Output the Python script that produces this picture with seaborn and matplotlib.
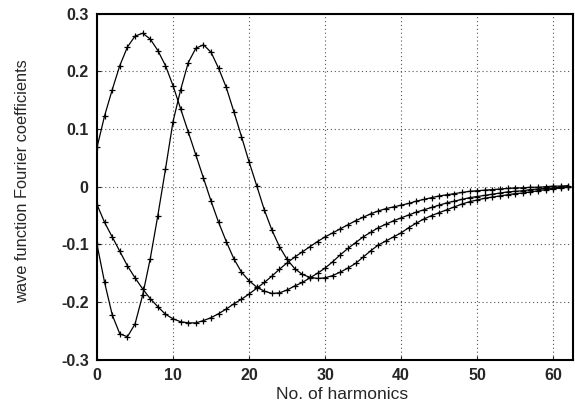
import numpy as np
import pandas as pd
import matplotlib
matplotlib.use('Agg')
import matplotlib.pyplot as plt
import seaborn as sns

# 谐波序号
harmonics = list(range(63))

# 三条波函数的傅里叶系数
coef_a = [0.068, 0.123, 0.168, 0.210, 0.242, 0.261, 0.266, 0.256, 0.236, 0.210,
          0.175, 0.135, 0.095, 0.055, 0.015, -0.025, -0.062, -0.095, -0.125, -0.148,
          -0.163, -0.174, -0.181, -0.185, -0.184, -0.179, -0.172, -0.166, -0.158, -0.150,
          -0.141, -0.130, -0.118, -0.107, -0.097, -0.087, -0.079, -0.071, -0.065, -0.059,
          -0.054, -0.049, -0.044, -0.040, -0.036, -0.032, -0.028, -0.025, -0.022, -0.019,
          -0.017, -0.015, -0.013, -0.011, -0.009, -0.008, -0.007, -0.005, -0.004, -0.003,
          -0.002, -0.001, 0.000]

coef_b = [-0.031, -0.062, -0.087, -0.112, -0.137, -0.158, -0.177, -0.194, -0.208, -0.221,
          -0.229, -0.234, -0.236, -0.236, -0.232, -0.227, -0.220, -0.212, -0.203, -0.195,
          -0.186, -0.176, -0.166, -0.155, -0.143, -0.132, -0.122, -0.113, -0.104, -0.095,
          -0.087, -0.080, -0.073, -0.066, -0.059, -0.053, -0.047, -0.042, -0.038, -0.035,
          -0.032, -0.029, -0.025, -0.022, -0.019, -0.016, -0.014, -0.012, -0.010, -0.008,
          -0.007, -0.006, -0.005, -0.004, -0.003, -0.002, -0.002, -0.001, -0.001, 0.000,
          0.001, 0.001, 0.002]

coef_c = [-0.100, -0.166, -0.222, -0.255, -0.260, -0.238, -0.188, -0.125, -0.050, 0.030,
          0.113, 0.168, 0.215, 0.240, 0.246, 0.233, 0.205, 0.172, 0.130, 0.087,
          0.043, 0.002, -0.040, -0.075, -0.104, -0.126, -0.142, -0.152, -0.157, -0.159,
          -0.158, -0.154, -0.148, -0.141, -0.133, -0.122, -0.111, -0.101, -0.094, -0.087,
          -0.080, -0.071, -0.063, -0.056, -0.050, -0.045, -0.040, -0.035, -0.030, -0.026,
          -0.023, -0.020, -0.018, -0.016, -0.014, -0.012, -0.011, -0.009, -0.007, -0.005,
          -0.004, -0.002, -0.001]

x_ticks = [0, 10, 20, 30, 40, 50, 60]
y_ticks = [-0.3, -0.2, -0.1, 0, 0.1, 0.2, 0.3]
y_tick_labels = ['-0.3', '-0.2', '-0.1', '0', '0.1', '0.2', '0.3']

sns.set_style('ticks')
plt.rcParams['font.family'] = ['Liberation Sans', 'DejaVu Sans']

fig = plt.figure(figsize=(5.75, 4.05), dpi=100)
ax = fig.add_axes([0.1687, 0.1116, 0.8278, 0.8548])

for vals in (coef_a, coef_b, coef_c):
    sns.lineplot(x=harmonics, y=vals, ax=ax, color='black', linewidth=0.9,
                 marker='+', markersize=5, markeredgewidth=0.9,
                 markeredgecolor='black', clip_on=True)

ax.set_xlim(0, 62.6)
ax.set_ylim(-0.3, 0.3)
ax.set_xticks(x_ticks)
ax.set_yticks(y_ticks)
ax.set_yticklabels(y_tick_labels)
ax.tick_params(direction='in', length=3, width=0.8, labelsize=11.5, pad=6)
for lab in ax.get_xticklabels() + ax.get_yticklabels():
    lab.set_fontweight('bold')

ax.grid(True, linestyle=(0, (1, 2.5)), color='#555555', linewidth=0.8)

for side in ['left', 'bottom', 'top', 'right']:
    ax.spines[side].set_visible(True)
    ax.spines[side].set_color('black')
    ax.spines[side].set_linewidth(1.5)

ax.set_xlabel('No. of harmonics', fontsize=12.5)
ax.set_ylabel('wave function Fourier coefficients', fontsize=11.8)
ax.xaxis.set_label_coords(0.515, -0.078)
ax.yaxis.set_label_coords(-0.141, 0.516)

plt.savefig('out.png', dpi=100)
plt.close()
